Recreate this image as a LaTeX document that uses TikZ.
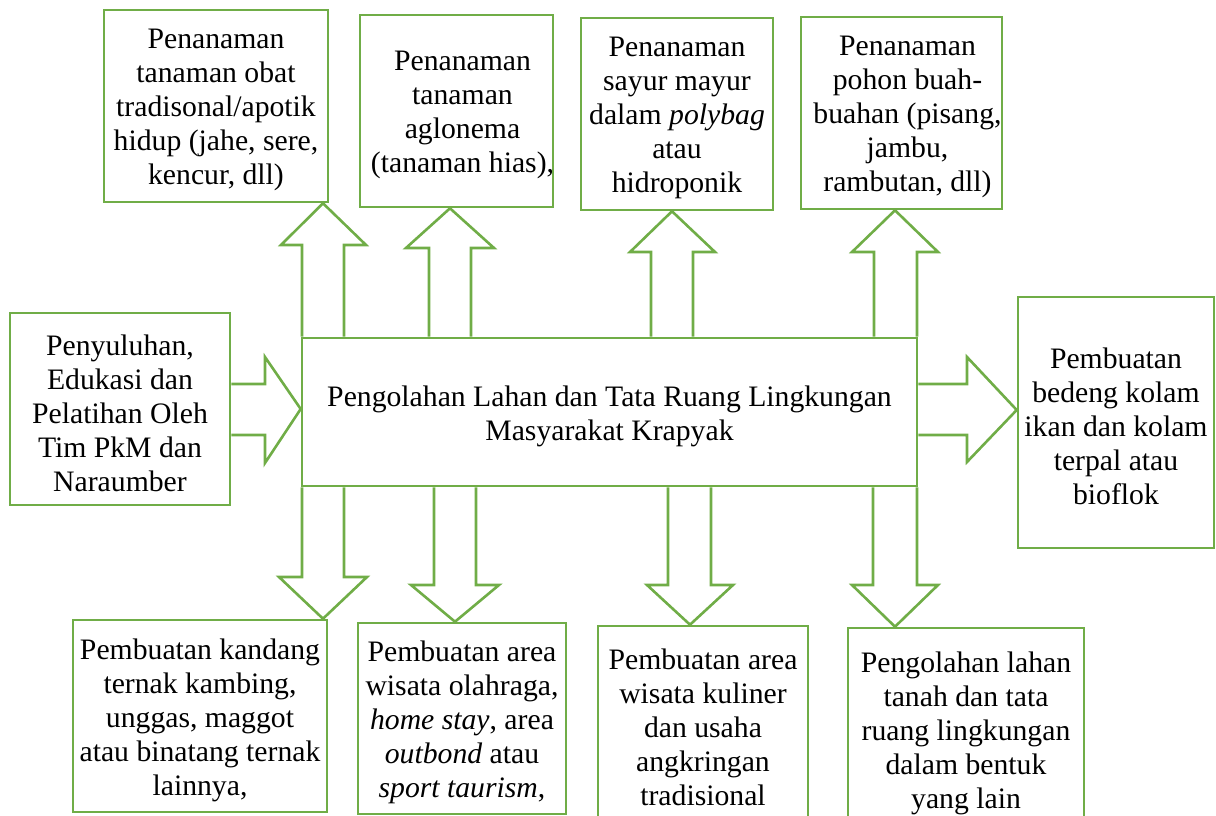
\documentclass[tikz,border=0pt]{standalone}
\usepackage{fontspec}
\setmainfont{Liberation Serif}
\definecolor{grn}{RGB}{112,173,71}
\tikzset{
  box/.style={draw=grn, line width=2.6pt, fill=white, inner sep=0pt},
  boxtext/.style={inner sep=0pt, align=center,
    font=\fontsize{29.7pt}{34pt}\selectfont, text=black},
  blockarrow/.style={draw=grn, line width=2.6pt, line join=miter}
}
% name, cx, cy, width, height, text x-offset, text
\newcommand\boxnode[7]{%
  \node[box, minimum width=#4pt, minimum height=#5pt] (#1) at (#2,#3) {};
  \node[boxtext] (#1t) at ([xshift=#6pt,yshift=-4pt]#1.center) {#7};}
\newcommand\arrUp[8]{% from, to, shaftL, shaftR, headL, headR, baseY, tipX
  \draw[blockarrow] (#1.north -| #3,0) -- (#3,#7) -- (#5,#7) -- (#2.south -| #8,0)
    -- (#6,#7) -- (#4,#7) -- (#1.north -| #4,0);}
\newcommand\arrDown[8]{%
  \draw[blockarrow] (#1.south -| #3,0) -- (#3,#7) -- (#5,#7) -- (#2.north -| #8,0)
    -- (#6,#7) -- (#4,#7) -- (#1.south -| #4,0);}
\begin{document}
\begin{tikzpicture}[x=1pt,y=-1pt]
\useasboundingbox (0,0) rectangle (1216,816);
\clip (0,0) rectangle (1216,816);
% top boxes
\boxnode{B1}{216}{106}{224}{192}{0}
  {Penanaman\\tanaman obat\\tradisonal/apotik\\hidup (jahe, sere,\\kencur, dll)}
\boxnode{B2}{456.5}{111}{193}{192}{6}
  {Penanaman\\tanaman\\aglonema\\(tanaman hias),}
\boxnode{B3}{677}{114}{192}{192}{0}
  {Penanaman\\sayur mayur\\dalam \textit{polybag}\\atau\\hidroponik}
\boxnode{B4}{901.5}{113}{201}{192}{6}
  {Penanaman\\pohon buah-\\buahan (pisang,\\jambu,\\rambutan, dll)}
% middle row
\boxnode{L}{120}{409}{220}{192}{0}
  {Penyuluhan,\\Edukasi dan\\Pelatihan Oleh\\Tim PkM dan\\Naraumber}
\boxnode{M}{609.5}{412}{615}{148}{0}
  {Pengolahan Lahan dan Tata Ruang Lingkungan\\Masyarakat Krapyak}
\boxnode{R}{1116}{422.5}{196}{251}{0}
  {Pembuatan\\bedeng kolam\\ikan dan kolam\\terpal atau\\bioflok}
% bottom boxes
\boxnode{C1}{200}{716}{254}{192}{0}
  {Pembuatan kandang\\ternak kambing,\\unggas, maggot\\atau binatang ternak\\lainnya,}
\boxnode{C2}{462}{718.5}{208}{191}{0}
  {Pembuatan area\\wisata olahraga,\\\textit{home stay}, area\\\textit{outbond} atau\\\textit{sport taurism},}
\boxnode{C3}{703}{723}{210}{194}{0}
  {Pembuatan area\\wisata kuliner\\dan usaha\\angkringan\\tradisional}
\boxnode{C4}{966}{729}{236}{202}{0}
  {Pengolahan lahan\\tanah dan tata\\ruang lingkungan\\dalam bentuk\\yang lain}
% up arrows
\arrUp{M}{B1}{302}{344}{281}{366}{245}{323}
\arrUp{M}{B2}{429}{471}{406}{494}{248}{450}
\arrUp{M}{B3}{651}{693}{630}{715}{252}{672}
\arrUp{M}{B4}{874}{917}{852}{938}{252}{895}
% down arrows
\arrDown{M}{C1}{302}{344}{279}{367}{577}{323}
\arrDown{M}{C2}{434}{476}{411}{499}{585}{455}
\arrDown{M}{C3}{668}{711}{647}{733}{585}{690}
\arrDown{M}{C4}{873}{917}{852}{938}{585}{895}
% side arrows
\draw[blockarrow] (L.east |- 0,384) -- (265,384) -- (265,357) -- (M.west |- 0,409)
  -- (265,463) -- (265,435) -- (L.east |- 0,435);
\draw[blockarrow] (M.east |- 0,384) -- (967,384) -- (967,357) -- (R.west |- 0,410)
  -- (967,462) -- (967,435) -- (M.east |- 0,435);
\end{tikzpicture}
\end{document}
